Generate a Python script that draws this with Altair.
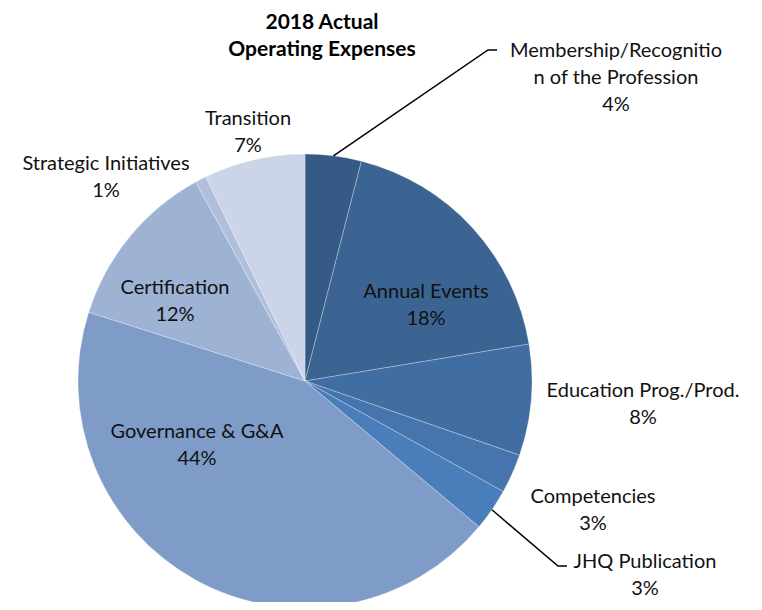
import math
import altair as alt
import pandas as pd

# ---- data ----
categories = ["Membership/Recognition of the Profession", "Annual Events",
              "Education Prog./Prod.", "Competencies", "JHQ Publication",
              "Governance & G&A", "Certification", "Strategic Initiatives", "Transition"]
values = [4.0, 18.4, 7.9, 2.8, 3.0, 43.8, 12.1, 0.8, 7.2]
label_names = ["Membership/Recognitio\nn of the Profession", "Annual Events",
               "Education Prog./Prod.", "Competencies", "JHQ Publication",
               "Governance & G&A", "Certification", "Strategic Initiatives", "Transition"]
colors = ["#355a86", "#3b6493", "#416ea2", "#4675ad", "#4a7ebb",
          "#7f9cc9", "#9eb2d4", "#b0c0dc", "#cbd5e7"]
title_lines = "2018 Actual\nOperating Expenses"

# ---- layout (pixels within the view) ----
W, H = 746, 594
CX, CY, R = 297, 373, 227
label_x = [608, 418, 635, 585, 637, 189, 167, 98, 240]
label_y = [49, 290, 389, 495, 560, 430, 286, 162, 117]   # baseline of first line
leader_end = {0: (480, 42), 4: (550, 558)}
leader_tail = 9

total = sum(values)
df = pd.DataFrame({
    "category": categories,
    "value": values,
    "order": list(range(len(categories))),
    "label": [f"{n}\n{round(v / total * 100)}%" for n, v in zip(label_names, values)],
    "lx": label_x,
    "ly": label_y,
})

pie = alt.Chart(df).mark_arc(outerRadius=R, stroke="#ffffff", strokeWidth=0.4,
                             strokeOpacity=0.7).encode(
    theta=alt.Theta("value:Q", stack=True),
    order=alt.Order("order:Q"),
    color=alt.Color("category:N", scale=alt.Scale(domain=categories, range=colors), legend=None),
    x=alt.value(CX),
    y=alt.value(CY),
)

labels = alt.Chart(df).mark_text(
    font="Lato", fontSize=20, color="#111111", align="center", baseline="alphabetic",
    lineBreak="\n", lineHeight=27,
).encode(
    x=alt.X("lx:Q", scale=None, axis=None),
    y=alt.Y("ly:Q", scale=None, axis=None),
    text="label:N",
)

# leader lines from slice edge (mid-angle) to label
cum = 0
rows = []
for i, v in enumerate(values):
    mid = (cum + v / 2) / total * 2 * math.pi
    cum += v
    if i in leader_end:
        sx = CX + R * math.sin(mid)
        sy = CY - R * math.cos(mid)
        ex, ey = leader_end[i]
        tx = ex + leader_tail
        for k, (px, py) in enumerate([(sx, sy), (ex, ey), (tx, ey)]):
            rows.append({"id": i, "k": k, "px": px, "py": py})
lead_df = pd.DataFrame(rows)
leaders = alt.Chart(lead_df).mark_line(color="#000000", strokeWidth=1.5).encode(
    x=alt.X("px:Q", scale=None, axis=None),
    y=alt.Y("py:Q", scale=None, axis=None),
    detail="id:N",
    order="k:Q",
)

title_df = pd.DataFrame({"t": [title_lines], "tx": [314], "ty": [21]})
title = alt.Chart(title_df).mark_text(
    font="Lato", fontSize=21, fontWeight="bold", color="#000000", align="center",
    baseline="alphabetic", lineBreak="\n", lineHeight=27,
).encode(
    x=alt.X("tx:Q", scale=None, axis=None),
    y=alt.Y("ty:Q", scale=None, axis=None),
    text="t:N",
)

chart = alt.layer(pie, leaders, labels, title).properties(
    width=W, height=H, padding=0, background="#ffffff",
    autosize=alt.AutoSizeParams(type="none"),
).configure_view(strokeWidth=0)

chart.save("out.html", embed_options={"renderer": "svg", "actions": False})
